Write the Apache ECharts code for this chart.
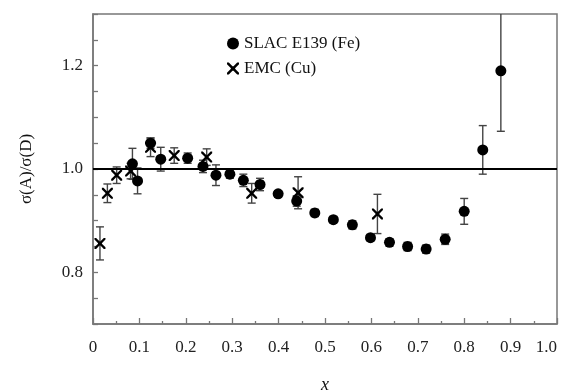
<!DOCTYPE html>
<html>
<head>
<meta charset="utf-8">
<script src="https://cdn.jsdelivr.net/npm/echarts@6/dist/echarts.min.js"></script>
<style>
  html, body { margin: 0; padding: 0; background: #fff; }
  #chart { width: 565px; height: 391px; }
</style>
</head>
<body>
<div id="chart"></div>
<script>
// SLAC E139 (Fe) points: x, ratio, error
const slacX = [0.085, 0.096, 0.124, 0.146, 0.204, 0.237, 0.265, 0.295, 0.324, 0.360, 0.399, 0.439,
  0.478, 0.518, 0.559, 0.598, 0.639, 0.678, 0.718, 0.759, 0.800, 0.840, 0.879];
const slacY = [1.010, 0.977, 1.050, 1.019, 1.021, 1.005, 0.988, 0.990, 0.978, 0.970, 0.952, 0.938,
  0.915, 0.902, 0.892, 0.867, 0.858, 0.850, 0.845, 0.864, 0.918, 1.037, 1.190];
const slacErr = [0.030, 0.025, 0.010, 0.023, 0.010, 0.012, 0.020, 0.008, 0.012, 0.012, 0.006, 0.010,
  0.007, 0.006, 0.008, 0.006, 0.007, 0.008, 0.008, 0.010, 0.025, 0.047, 0.117];

// EMC (Cu) points
const emcX = [0.015, 0.031, 0.051, 0.081, 0.124, 0.175, 0.245, 0.342, 0.442, 0.613];
const emcY = [0.856, 0.953, 0.988, 0.996, 1.042, 1.026, 1.023, 0.953, 0.954, 0.913];
const emcErr = [0.032, 0.018, 0.016, 0.015, 0.018, 0.015, 0.016, 0.019, 0.031, 0.038];

const yTickLabels = [0.8, 1.0, 1.2];
const refLine = 1.0;

const serif = '"Liberation Serif", "DejaVu Serif", serif';
// thin X with a small filled centre
const crossPath = 'path://M0,0 L1.5,0 L5,3.5 L8.5,0 L10,0 L10,1.5 L6.5,5 L10,8.5 L10,10 L8.5,10 L5,6.5 L1.5,10 L0,10 L0,8.5 L3.5,5 L0,1.5 Z M3.2,3.2 L6.8,3.2 L6.8,6.8 L3.2,6.8 Z';

const zip = (xs, ys, es) => xs.map((x, i) => es ? [x, ys[i], es[i]] : [x, ys[i]]);

function errorBars(params, api) {
  const x = api.value(0), y = api.value(1), e = api.value(2);
  const cs = params.coordSys;
  const top = api.coord([x, y + e]);
  const bot = api.coord([x, y - e]);
  const hw = 4;
  const style = { stroke: '#444', lineWidth: 1.4 };
  const kids = [];
  const yTop = Math.max(top[1], cs.y);
  kids.push({ type: 'line', shape: { x1: top[0], y1: yTop, x2: bot[0], y2: bot[1] }, style });
  if (top[1] >= cs.y) {
    kids.push({ type: 'line', shape: { x1: top[0] - hw, y1: top[1], x2: top[0] + hw, y2: top[1] }, style });
  }
  kids.push({ type: 'line', shape: { x1: bot[0] - hw, y1: bot[1], x2: bot[0] + hw, y2: bot[1] }, style });
  return { type: 'group', children: kids };
}

const chart = echarts.init(document.getElementById('chart'));
chart.setOption({
  animation: false,
  textStyle: { fontFamily: serif },
  grid: {
    left: 93, right: 8, top: 14, bottom: 67,
    outerBoundsMode: 'none', containLabel: false,
    show: true, borderColor: '#777', borderWidth: 1.5
  },
  legend: {
    left: 222, top: 30, orient: 'vertical', itemGap: 8,
    itemWidth: 12, itemHeight: 12,
    textStyle: { fontFamily: serif, fontSize: 17, color: '#111' },
    data: [
      { name: 'SLAC E139 (Fe)', icon: 'circle' },
      { name: 'EMC (Cu)', icon: crossPath }
    ]
  },
  xAxis: {
    type: 'value', min: 0, max: 1, interval: 0.1,
    name: 'x', nameLocation: 'middle', nameGap: 52,
    nameTextStyle: { fontFamily: serif, fontSize: 18, fontStyle: 'italic', color: '#111' },
    axisLine: { lineStyle: { color: '#777', width: 1.5 } },
    axisTick: { inside: true, length: 6, lineStyle: { color: '#777', width: 1.3 } },
    minorTick: { show: true, splitNumber: 2, length: 3, lineStyle: { color: '#777', width: 1.3 } },
    splitLine: { show: false },
    axisLabel: {
      margin: 15, fontSize: 17, color: '#222', fontFamily: serif,
      alignMaxLabel: 'right',
      formatter: v => (Math.abs(v) < 1e-9 ? '0' : v.toFixed(1))
    }
  },
  yAxis: {
    type: 'value', min: 0.7, max: 1.3, interval: 0.05,
    name: 'σ(A)/σ(D)', nameLocation: 'middle', nameGap: 58, nameRotate: 90,
    nameTextStyle: { fontFamily: serif, fontSize: 17, color: '#111' },
    axisLine: { lineStyle: { color: '#777', width: 1.5 } },
    axisTick: { inside: true, length: 5, lineStyle: { color: '#777', width: 1.3 } },
    splitLine: { show: false },
    axisLabel: {
      margin: 10, fontSize: 17, color: '#222', fontFamily: serif,
      formatter: v => {
        const hit = yTickLabels.find(t => Math.abs(t - v) < 1e-6);
        return hit === undefined ? '' : hit.toFixed(1);
      }
    }
  },
  series: [
    {
      type: 'custom', name: 'slacErr', renderItem: errorBars,
      data: zip(slacX, slacY, slacErr), z: 2, silent: true
    },
    {
      type: 'custom', name: 'emcErr', renderItem: errorBars,
      data: zip(emcX, emcY, emcErr), z: 2, silent: true
    },
    {
      type: 'scatter', name: 'SLAC E139 (Fe)', symbol: 'circle', symbolSize: 11,
      itemStyle: { color: '#000', opacity: 1 },
      data: zip(slacX, slacY), z: 4,
      markLine: {
        silent: true, symbol: 'none', label: { show: false },
        lineStyle: { color: '#000', width: 2, type: 'solid' },
        data: [{ yAxis: refLine }]
      }
    },
    {
      type: 'scatter', name: 'EMC (Cu)', symbol: crossPath, symbolSize: 11,
      itemStyle: { color: '#000', opacity: 1 },
      data: zip(emcX, emcY), z: 4
    }
  ]
});
</script>
</body>
</html>
